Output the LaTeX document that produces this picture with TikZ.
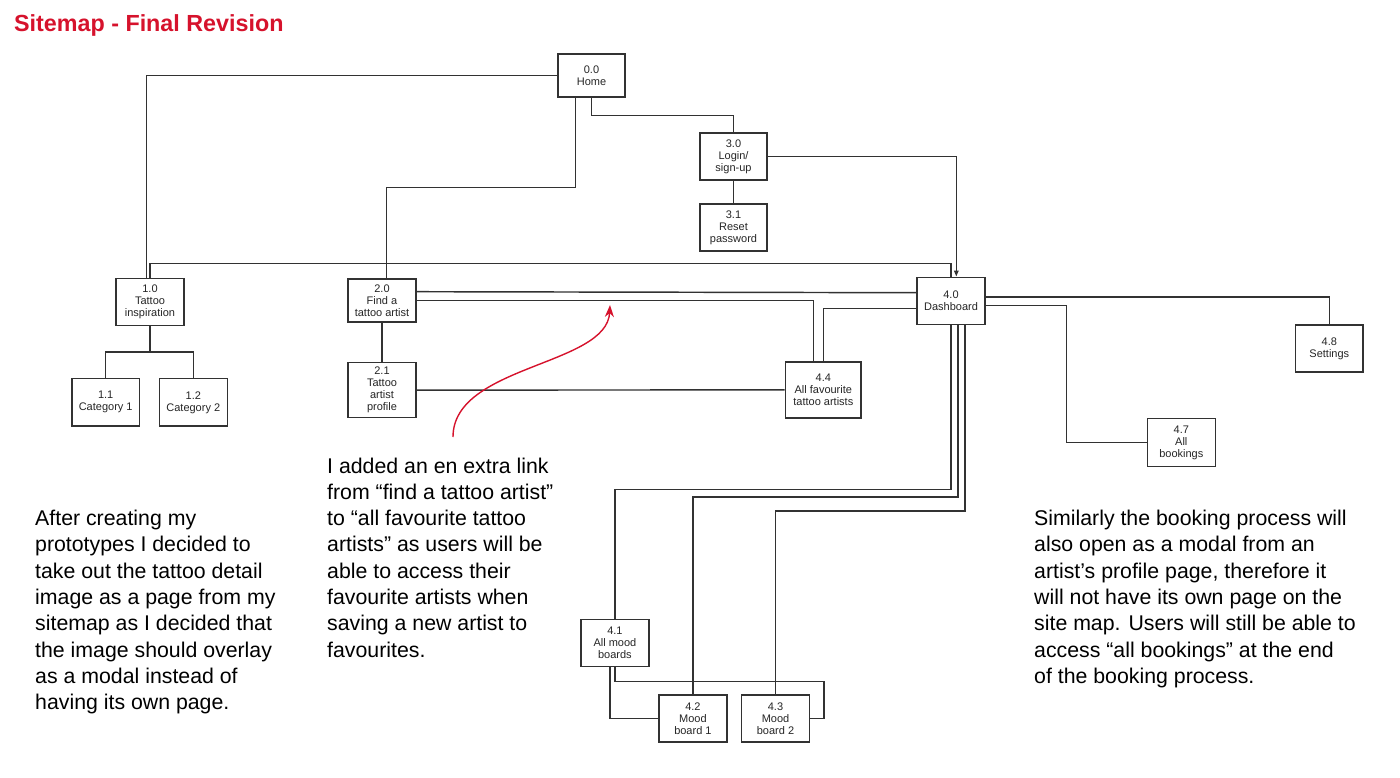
\documentclass[tikz,border=0pt]{standalone}
\usepackage{fontspec}
\setmainfont{Liberation Sans}
\usetikzlibrary{arrows.meta}
\definecolor{accent}{RGB}{214,18,44}
\definecolor{ink}{RGB}{50,50,50}
\begin{document}
\begin{tikzpicture}[x=1pt,y=-1pt,
  page/.style={draw=ink, line width=1.5pt, fill=white, inner sep=0pt, align=center,
    font=\fontsize{11}{12}\selectfont, text=black!85},
  link/.style={draw=ink, line width=1.45pt},
  note/.style={anchor=base west, align=left, inner sep=0pt,
    font=\fontsize{21.3}{26.3}\selectfont, text=black},
]
\useasboundingbox[fill=white] (0,0) rectangle (1400,778);

% title
\node[anchor=base west, inner sep=0pt, font=\fontsize{23.3}{27}\selectfont\bfseries, text=accent] (title) at (14,32) {Sitemap - Final Revision};

% pages
\node[page, minimum width=67pt, minimum height=43pt] (home) at (591.5,75.5) {0.0\\Home};
\node[page, minimum width=67pt, minimum height=47pt] (b30) at (733.5,156.5) {3.0\\Login/\\sign-up};
\node[page, minimum width=67pt, minimum height=47pt] (b31) at (733.5,227.5) {3.1\\Reset\\password};
\node[page, minimum width=68pt, minimum height=47pt] (b10) at (150,301.8) {1.0\\Tattoo\\inspiration};
\node[page, minimum width=68pt, minimum height=43pt] (b20) at (382,300.5) {2.0\\Find a\\tattoo artist};
\node[page, minimum width=68pt, minimum height=47pt] (b40) at (951,300.8) {4.0\\Dashboard};
\node[page, minimum width=67.5pt, minimum height=47pt] (b48) at (1329.3,348.5) {4.8\\Settings};
\node[page, minimum width=67.3pt, minimum height=47.5pt] (b11) at (105.7,402.3) {1.1\\Category 1};
\node[page, minimum width=68pt, minimum height=47.5pt] (b12) at (193.3,402.3) {1.2\\Category 2};
\node[page, minimum width=68pt, minimum height=55pt] (b21) at (382,390.1) {2.1\\Tattoo\\artist\\profile};
\node[page, minimum width=75.8pt, minimum height=55.7pt] (b44) at (823.3,389.9) {4.4\\All favourite\\tattoo artists};
\node[page, minimum width=68pt, minimum height=48pt] (b47) at (1181.3,442.7) {4.7\\All\\bookings};
\node[page, minimum width=67.7pt, minimum height=47.4pt] (b41) at (614.9,643) {4.1\\All mood\\boards};
\node[page, minimum width=67.7pt, minimum height=47pt] (b42) at (692.9,718.5) {4.2\\Mood\\board 1};
\node[page, minimum width=67.6pt, minimum height=47pt] (b43) at (775.5,718.5) {4.3\\Mood\\board 2};

% connectors
\draw[link] (home.west) -| ([xshift=-3.3pt]b10.north);
\draw[link] ([xshift=-16pt]home.south) -- ++(0,90) -| ([xshift=4.7pt]b20.north);
\draw[link] (home.south) -- ++(0,18) -| (b30.north);
\draw[link, -{Triangle[length=6pt,width=4.5pt]}] (b30.east) -| ([xshift=5.3pt]b40.north);
\draw[link] (b30.south) -- (b31.north);
\draw[link] (b10.north) -- ++(0,-14) -| (b40.north);
\draw[link] ([yshift=8.8pt]b20.east) -- ([yshift=8.1pt]b40.west);
\draw[link] (b20.east) -| ([xshift=-9.8pt]b44.north);
\draw[link] ([yshift=-7.5pt]b40.west) -| (b44.north);
\draw[link] (b20.south) -- (b21.north);
\draw[link] (b21.east) -- (b44.west);
\draw[link] (b10.south) -- ++(0,26) -| (b11.north);
\draw[link] (b10.south) ++(0,26) -| (b12.north);
\draw[link] ([yshift=4pt]b40.east) -| (b48.north);
\draw[link] ([yshift=-4.5pt]b40.east) -- ++(81,0) |- (b47.west);
\draw[link] (b40.south) -- ++(0,164.7) -| (b41.north);
\draw[link] ([xshift=7pt]b40.south) -- ++(0,172) -| (b42.north);
\draw[link] ([xshift=14pt]b40.south) -- ++(0,186) -| (b43.north);
\draw[link] ([xshift=-5pt]b41.south) |- (b42.west);
\draw[link] (b41.south) -- ++(0,14) -- ++(209.3,0) |- (b43.east);

% red annotation arrow
\coordinate (arrowstart) at (453,437);
\coordinate (arrowtip) at (610,305);
\draw[accent, line width=1.4pt, -{Stealth[length=12pt,width=9pt]}] (arrowstart) .. controls (453,365) and (607,366) .. (arrowtip);

% notes (anchor = baseline of last line)
\node[note] (lefttext) at (35,709.6) {After creating my\\prototypes I decided to\\take out the tattoo detail\\image as a page from my\\sitemap as I decided that\\the image should overlay\\as a modal instead of\\having its own page.};
\node[note] (midtext) at (327,657.1) {I added an en extra link\\from “find a tattoo artist”\\to “all favourite tattoo\\artists” as users will be\\able to access their\\favourite artists when\\saving a new artist to\\favourites.};
\node[note] (righttext) at (1034,683.3) {Similarly the booking process will\\also open as a modal from an\\artist’s profile page, therefore it\\will not have its own page on the\\site map. Users will still be able to\\access “all bookings” at the end\\of the booking process.};
\end{tikzpicture}
\end{document}
